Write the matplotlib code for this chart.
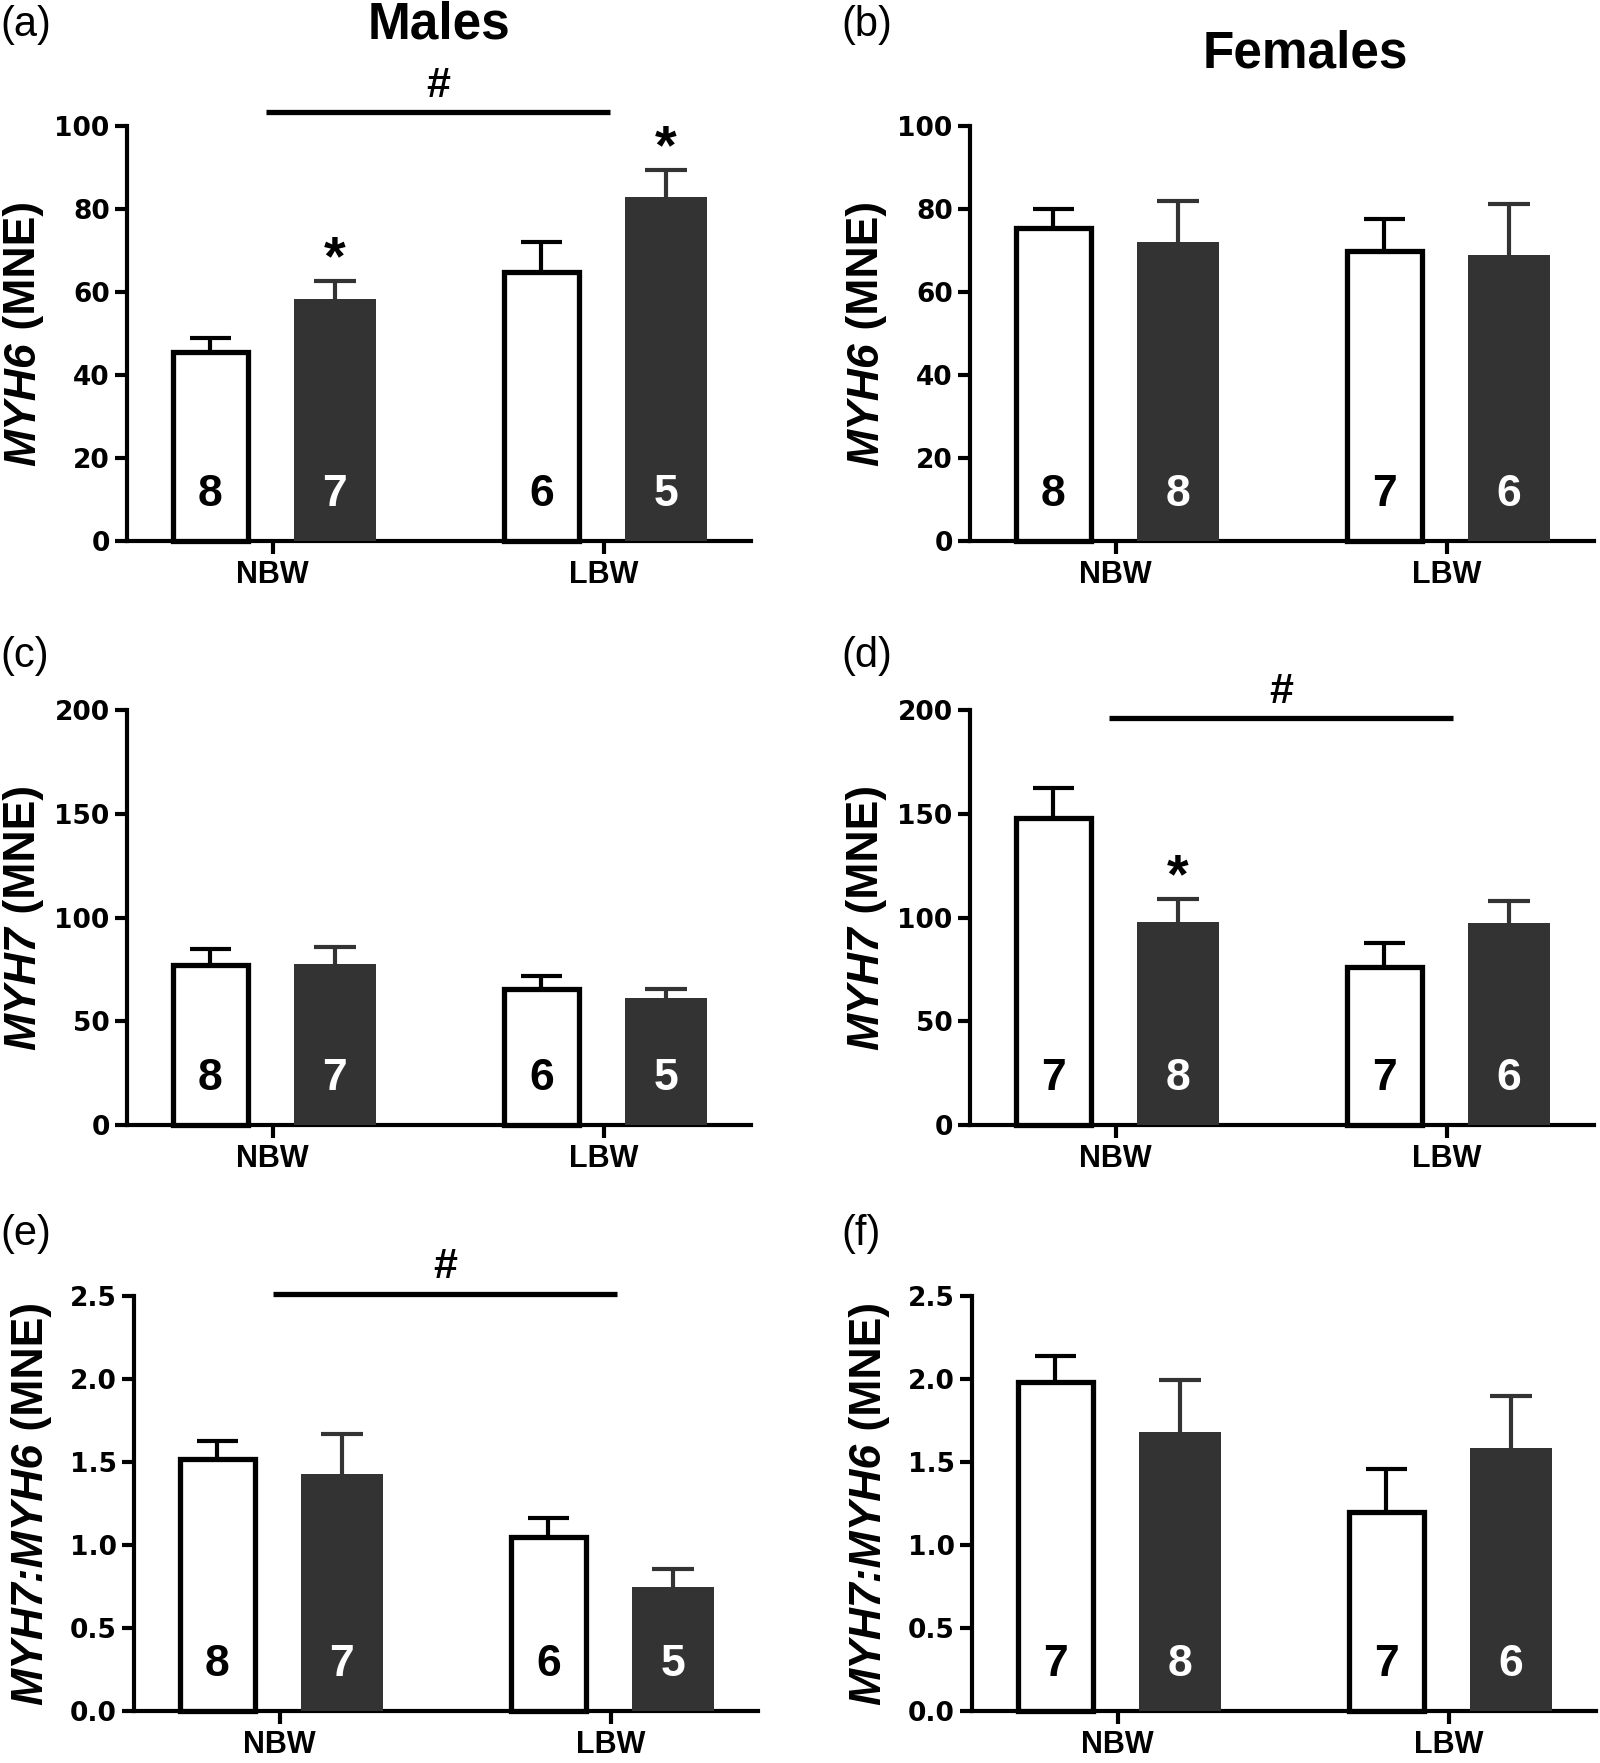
import numpy as np
import matplotlib
matplotlib.use('Agg')
import matplotlib.pyplot as plt
from matplotlib import transforms
from matplotlib.ticker import FormatStrFormatter

plt.rcParams['font.family'] = ['Liberation Sans', 'DejaVu Sans']

groups = ['NBW', 'LBW']

# (a) MYH6, males
a_open = [45.6, 64.8]
a_open_sem = [3.2, 7.2]
a_fill = [58.2, 83.0]
a_fill_sem = [4.5, 6.3]
a_n_open = [8, 6]
a_n_fill = [7, 5]

# (b) MYH6, females
b_open = [75.5, 70.0]
b_open_sem = [4.4, 7.5]
b_fill = [72.0, 69.0]
b_fill_sem = [10.0, 12.2]
b_n_open = [8, 7]
b_n_fill = [8, 6]

# (c) MYH7, males
c_open = [77.0, 65.5]
c_open_sem = [8.0, 6.5]
c_fill = [77.5, 61.0]
c_fill_sem = [8.3, 4.5]
c_n_open = [8, 6]
c_n_fill = [7, 5]

# (d) MYH7, females
d_open = [148.0, 76.0]
d_open_sem = [14.6, 11.6]
d_fill = [97.8, 97.4]
d_fill_sem = [11.0, 10.4]
d_n_open = [7, 7]
d_n_fill = [8, 6]

# (e) MYH7:MYH6, males
e_open = [1.52, 1.05]
e_open_sem = [0.105, 0.11]
e_fill = [1.43, 0.75]
e_fill_sem = [0.237, 0.105]
e_n_open = [8, 6]
e_n_fill = [7, 5]

# (f) MYH7:MYH6, females
f_open = [1.98, 1.20]
f_open_sem = [0.156, 0.26]
f_fill = [1.68, 1.586]
f_fill_sem = [0.316, 0.31]
f_n_open = [7, 7]
f_n_fill = [8, 6]

DARK = '#333333'
W, H = 1600, 1763
off = 0.188
cap = 0.063

panels = [
    dict(tag='(a)', open=a_open, open_sem=a_open_sem, fill=a_fill, fill_sem=a_fill_sem,
         n_open=a_n_open, n_fill=a_n_fill, ymax=100, step=20, fmt='%d',
         lab=[('MYH6', 'italic'), (' (MNE)', 'normal')], stars=[True, True], hash_y=103.3),
    dict(tag='(b)', open=b_open, open_sem=b_open_sem, fill=b_fill, fill_sem=b_fill_sem,
         n_open=b_n_open, n_fill=b_n_fill, ymax=100, step=20, fmt='%d',
         lab=[('MYH6', 'italic'), (' (MNE)', 'normal')], stars=[False, False], hash_y=None),
    dict(tag='(c)', open=c_open, open_sem=c_open_sem, fill=c_fill, fill_sem=c_fill_sem,
         n_open=c_n_open, n_fill=c_n_fill, ymax=200, step=50, fmt='%d',
         lab=[('MYH7', 'italic'), (' (MNE)', 'normal')], stars=[False, False], hash_y=None),
    dict(tag='(d)', open=d_open, open_sem=d_open_sem, fill=d_fill, fill_sem=d_fill_sem,
         n_open=d_n_open, n_fill=d_n_fill, ymax=200, step=50, fmt='%d',
         lab=[('MYH7', 'italic'), (' (MNE)', 'normal')], stars=[True, False], hash_y=196),
    dict(tag='(e)', open=e_open, open_sem=e_open_sem, fill=e_fill, fill_sem=e_fill_sem,
         n_open=e_n_open, n_fill=e_n_fill, ymax=2.5, step=0.5, fmt='%.1f',
         lab=[('MYH7:MYH6', 'italic'), (' (MNE)', 'normal')], stars=[False, False], hash_y=2.515),
    dict(tag='(f)', open=f_open, open_sem=f_open_sem, fill=f_fill, fill_sem=f_fill_sem,
         n_open=f_n_open, n_fill=f_n_fill, ymax=2.5, step=0.5, fmt='%.1f',
         lab=[('MYH7:MYH6', 'italic'), (' (MNE)', 'normal')], stars=[False, False], hash_y=None),
]

fig = plt.figure(figsize=(W / 100, H / 100), dpi=100)

lefts = [127, 970, 127, 970, 134, 972]
bottoms = [541, 541, 1125, 1125, 1711, 1711]
tag_pos = [(0, 25), (841, 25), (0, 656), (841, 656), (0, 1234), (841, 1234)]


def sem_bars(ax, xs, means, sems, color):
    tops = np.asarray(means) + np.asarray(sems)
    ax.vlines(xs, means, tops, color=color, lw=3, zorder=2)
    ax.hlines(tops, xs - cap, xs + cap, color=color, lw=3, zorder=2)


label_texts = []
for i, p in enumerate(panels):
    ax = fig.add_axes([lefts[i] / W, 1 - bottoms[i] / H, 624 / W, 415 / H])
    x = np.arange(len(groups))
    sem_bars(ax, x - off, p['open'], p['open_sem'], 'black')
    sem_bars(ax, x + off, p['fill'], p['fill_sem'], DARK)
    ax.bar(x - off, p['open'], width=0.225, color='white', edgecolor='black', linewidth=3.8,
           zorder=3, clip_on=False)
    ax.bar(x + off, p['fill'], width=0.25, color=DARK, linewidth=0, zorder=3)

    tr = transforms.blended_transform_factory(ax.transData, ax.transAxes)
    for xi, n in zip(x - off, p['n_open']):
        ax.text(xi, 0.112, str(n), transform=tr, ha='center', va='center',
                fontsize=32, fontweight='bold', color='black', zorder=4)
    for xi, n in zip(x + off, p['n_fill']):
        ax.text(xi, 0.112, str(n), transform=tr, ha='center', va='center',
                fontsize=32, fontweight='bold', color='white', zorder=4)

    for xi, m, s, st in zip(x + off, p['fill'], p['fill_sem'], p['stars']):
        if st:
            ax.annotate('*', (xi, m + s), xytext=(0, 5), textcoords='offset points',
                        ha='center', va='baseline', fontsize=40, fontweight='bold')
    if p['hash_y'] is not None:
        ax.plot([x[0] - 0.02, x[-1] + 0.02], [p['hash_y']] * 2, color='black', lw=3.8,
                solid_capstyle='butt', clip_on=False)
        ax.annotate('#', ((x[0] + x[-1]) / 2, p['hash_y']), xytext=(0, 11),
                    textcoords='offset points', ha='center', va='baseline',
                    fontsize=31, fontweight='bold', annotation_clip=False)

    ax.set_xlim(-0.44, 1.445)
    ax.set_ylim(0, p['ymax'])
    ax.set_yticks(np.arange(0, p['ymax'] + p['step'] / 2, p['step']))
    ax.yaxis.set_major_formatter(FormatStrFormatter(p['fmt']))
    ax.set_xticks(x)
    ax.set_xticklabels(groups, fontsize=22, fontweight='bold')
    for t in ax.get_yticklabels():
        t.set_fontfamily('DejaVu Sans')
        t.set_fontweight('bold')
        t.set_fontsize(19)
    ax.tick_params(axis='both', direction='out', length=9, width=3)
    ax.tick_params(axis='y', pad=3.5)
    ax.tick_params(axis='x', pad=5)
    for side in ['top', 'right']:
        ax.spines[side].set_visible(False)
    for side in ['left', 'bottom']:
        ax.spines[side].set_linewidth(3)

    parts = []
    for s, style in p['lab']:
        t = ax.text(0, 0.5, s, transform=ax.transAxes, rotation=90, rotation_mode='anchor',
                    ha='left', va='center', fontsize=32, fontweight='bold', fontstyle=style)
        parts.append(t)
    label_texts.append((ax, parts))

    tx, ty = tag_pos[i]
    fig.text(tx / W, 1 - ty / H, p['tag'], fontsize=30, ha='left', va='center')

fig.text(439 / W, 1 - 25 / H, 'Males', fontsize=37, fontweight='bold', ha='center', va='center')
fig.text(1305 / W, 1 - 54 / H, 'Females', fontsize=37, fontweight='bold', ha='center', va='center')

# lay the mixed-style y labels end to end, centred on the axis
fig.canvas.draw()
r = fig.canvas.get_renderer()
for ax, parts in label_texts:
    lens = [t.get_window_extent(r).height for t in parts]
    start = -sum(lens) / 2
    for t, l in zip(parts, lens):
        t.set_transform(transforms.offset_copy(ax.transAxes, fig=fig, x=-103, y=start, units='dots'))
        start += l

fig.savefig('out.png', dpi=100)
